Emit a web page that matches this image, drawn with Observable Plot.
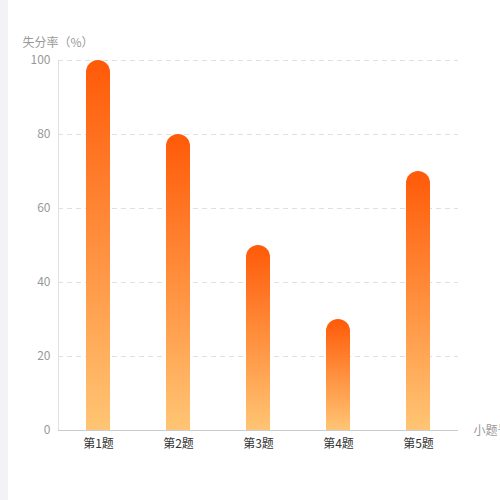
<!DOCTYPE html>
<html>
<head>
<meta charset="utf-8">
<script src="https://cdn.jsdelivr.net/npm/d3@7"></script>
<script src="https://cdn.jsdelivr.net/npm/@observablehq/plot@0.6"></script>
<style>
  html, body { margin: 0; padding: 0; background: #fff; }
  #wrap { width: 492px; height: 500px; border-left: 8px solid #f2f2f7; overflow: hidden; }
  svg { display: block; }
</style>
</head>
<body>
<div id="wrap"></div>
<script>
const categories = ["第1题", "第2题", "第3题", "第4题", "第5题"];
const values = [100, 80, 50, 30, 70];
const yTicks = [0, 20, 40, 60, 80, 100];
const yTitle = "失分率（%）";
const xTitle = "小题号";

const data = categories.map((c, i) => ({cat: c, value: values[i]}));
const font = "'Noto Sans CJK SC', 'Noto Sans', sans-serif";

const chart = Plot.plot({
  width: 492,
  height: 500,
  marginLeft: 50,
  marginRight: 42,
  marginTop: 60,
  marginBottom: 70,
  style: {fontFamily: font, fontSize: "12px", background: "#fff", overflow: "hidden"},
  x: {domain: categories, paddingInner: 0.7, paddingOuter: 0.35, label: null},
  y: {domain: [0, 100], label: null},
  marks: [
    () => {
      const svg = d3.create("svg:defs");
      const g = svg.append("linearGradient").attr("id", "barGrad")
        .attr("x1", 0).attr("y1", 0).attr("x2", 0).attr("y2", 1);
      g.append("stop").attr("offset", "0%").attr("stop-color", "#ff5a08");
      g.append("stop").attr("offset", "100%").attr("stop-color", "#ffc574");
      return svg.node();
    },
    Plot.gridY(yTicks, {stroke: "#e0e0e0", strokeOpacity: 1, strokeDasharray: "5,4"}),
    Plot.axisY({ticks: yTicks, tickSize: 0, tickPadding: 8, fill: "#999", label: null, fontSize: 12}),
    Plot.frame({anchor: "left", stroke: "#e0e0e0"}),
    Plot.barY(data, {x: "cat", y: "value", fill: "url(#barGrad)", rx1y1: 12, rx2y1: 12}),
    Plot.ruleY([0], {stroke: "#ccc"}),
    Plot.axisX({tickSize: 0, tickPadding: 9, fill: "#333", label: null, fontSize: 12}),
    Plot.text([yTitle], {frameAnchor: "top-left", dx: -36, dy: -22, textAnchor: "start", fill: "#999", fontSize: 12}),
    Plot.text([xTitle], {frameAnchor: "bottom-right", dx: 15, dy: 4, textAnchor: "start", fill: "#999", fontSize: 12})
  ]
});
document.getElementById("wrap").appendChild(chart);
</script>
</body>
</html>
